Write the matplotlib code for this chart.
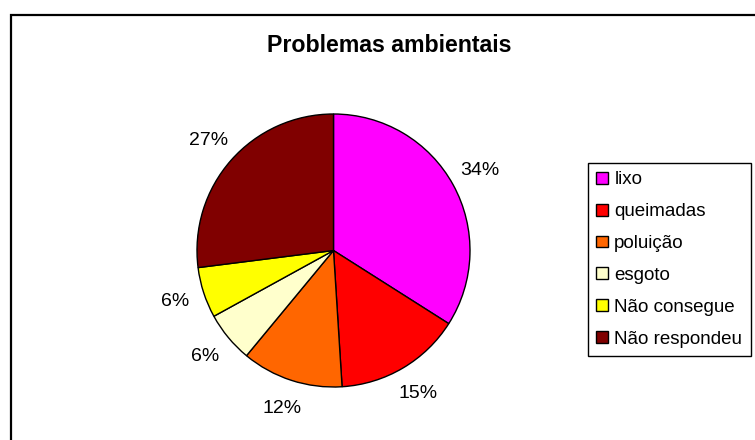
from matplotlib import pyplot as plt
from matplotlib.patches import Rectangle

plt.rcParams['font.family'] = ['Liberation Sans', 'DejaVu Sans']

# dados do gráfico
categorias = ['lixo', 'queimadas', 'poluição', 'esgoto', 'Não consegue', 'Não respondeu']
percentuais = [34, 15, 12, 6, 6, 27]
cores = ['#FF00FF', '#FF0000', '#FF6600', '#FFFFCC', '#FFFF00', '#800000']

W, H = 755, 440
fig = plt.figure(figsize=(W / 100, H / 100), dpi=100)

# moldura da área do gráfico
fig.patches.append(Rectangle((11 / W, -0.2), 1.2, 1.2 - 15 / H,
                             transform=fig.transFigure, fill=False,
                             edgecolor='black', linewidth=1.6))

# eixo da pizza
cx, cy, r = 333.5, 250.5, 136.5
ax = fig.add_axes([(cx - r) / W, (H - cy - r) / H, 2 * r / W, 2 * r / H])
fatias, textos, pcts = ax.pie(percentuais, colors=cores, startangle=90, counterclock=False,
                              autopct='%1.0f%%', pctdistance=1.22, radius=1,
                              wedgeprops=dict(edgecolor='black', linewidth=1.0))
for t in pcts:
    t.set_fontsize(14)
ax.set_xlim(-1, 1)
ax.set_ylim(-1, 1)
ax.set_aspect('equal')

fig.text(389 / W, 1 - 46 / H, 'Problemas ambientais', ha='center', va='center',
         fontsize=16.7, fontweight='bold')

leg = fig.legend(fatias, categorias, loc='upper left',
                 bbox_to_anchor=(588 / W, 1 - 163 / H), fontsize=13.5,
                 frameon=True, fancybox=False, edgecolor='black', framealpha=1,
                 handlelength=0.6, handleheight=0.6, handletextpad=0.35,
                 labelspacing=0.79, borderpad=0.45, borderaxespad=0)
leg.get_frame().set_linewidth(1.0)

fig.savefig('out.png', dpi=100)
